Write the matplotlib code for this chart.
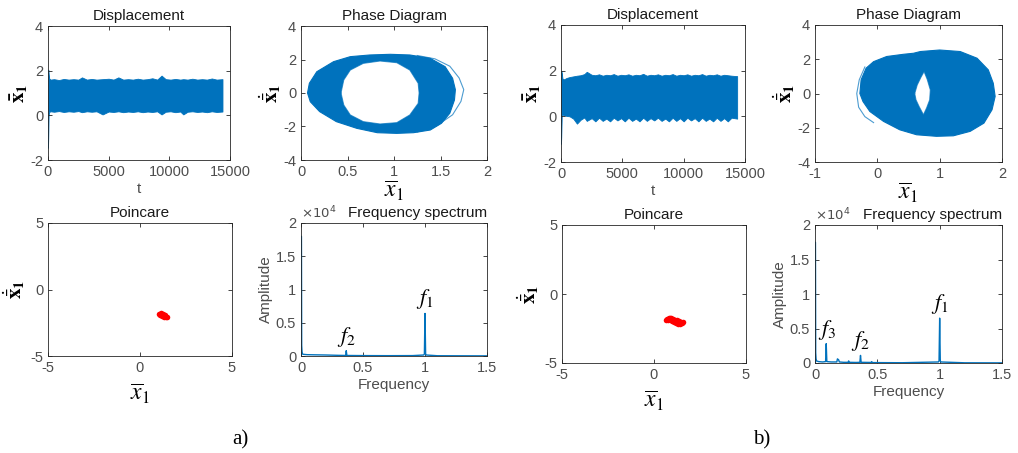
import matplotlib
matplotlib.use("Agg")
import matplotlib.pyplot as plt

plt.rcParams["font.family"] = ["Liberation Sans", "DejaVu Sans"]

BLUE = "#0072BD"
GREY = "#4d4d4d"

# ---- a) displacement envelope (read off the picture)
disp_t_a = [0, 20, 50, 100, 200, 500, 900, 1300, 1700, 2100, 2500, 2800, 3200, 3600,
            4000, 4500, 5000, 5400, 5800, 6200, 6600, 7000, 7400, 7800, 8200, 8600,
            9000, 9360, 9700, 10100, 10500, 10900, 11150, 11500, 11900, 12300, 12700,
            13100, 13500, 13900, 14380]
disp_hi_a = [0.3, 2.05, 1.85, 1.65, 1.6, 1.62, 1.58, 1.63, 1.6, 1.62, 1.6, 1.7, 1.6, 1.63,
             1.6, 1.62, 1.64, 1.6, 1.7, 1.6, 1.62, 1.6, 1.64, 1.6, 1.62, 1.66,
             1.6, 1.78, 1.62, 1.6, 1.63, 1.6, 1.62, 1.6, 1.64, 1.6, 1.62,
             1.6, 1.65, 1.6, 1.62]
disp_lo_a = [-1.45, -1.0, 0.0, 0.15, 0.18, 0.16, 0.19, 0.15, 0.18, 0.16, 0.19, 0.14, 0.18, 0.16,
             0.18, 0.04, 0.17, 0.15, 0.18, 0.14, 0.17, 0.15, 0.18, 0.14, 0.17, 0.15,
             0.18, 0.04, 0.16, 0.18, 0.14, 0.17, 0.04, 0.16, 0.18, 0.15, 0.17,
             0.14, 0.18, 0.15, 0.17]

# ---- b) displacement envelope
disp_t_b = [0, 20, 60, 120, 250, 450, 700, 1000, 1300, 1600, 1900, 2100, 2500, 2800,
            3100, 3400, 3700, 4000, 4300, 4600, 4900, 5200, 5500, 5800, 6100, 6400,
            6700, 7000, 7300, 7600, 7900, 8200, 8500, 8800, 9100, 9400, 9700, 10000,
            10300, 10600, 10900, 11200, 11500, 11800, 12100, 12400, 12700, 13000,
            13300, 13600, 13900, 14360]
disp_hi_b = [0.5, 2.0, 1.9, 1.65, 1.62, 1.68, 1.72, 1.75, 1.78, 1.8, 1.85, 1.95, 1.82, 1.8,
             1.84, 1.78, 1.82, 1.8, 1.85, 1.78, 1.82, 1.8, 1.84, 1.78, 1.82, 1.8,
             1.86, 1.78, 1.82, 1.8, 1.84, 1.78, 1.82, 1.8, 1.85, 1.78, 1.82, 1.8,
             1.84, 1.78, 1.82, 1.8, 1.85, 1.78, 1.82, 1.8, 1.84, 1.78,
             1.82, 1.8, 1.78, 1.76]
disp_lo_b = [-1.2, -0.9, 0.05, 0.08, 0.04, 0.02, 0.0, -0.1, -0.32, -0.15, -0.05, -0.2, -0.08, -0.22,
             -0.06, -0.2, -0.1, -0.22, -0.06, -0.18, -0.08, -0.22, -0.06, -0.2, -0.1, -0.22,
             -0.06, -0.2, -0.08, -0.18, -0.06, -0.2, -0.1, -0.22, -0.06, -0.2, -0.08, -0.22,
             -0.06, -0.18, -0.08, -0.22, -0.06, -0.2, -0.1, -0.22, -0.06, -0.2,
             -0.08, -0.22, -0.06, -0.1]

# ---- phase diagrams: outer / inner boundary of the filled orbit band
phase_out_x_a = [0.07, 0.09, 0.17, 0.35, 0.53, 0.74, 0.96, 1.17, 1.39, 1.55, 1.63, 1.66,
                 1.65, 1.6, 1.51, 1.39, 1.21, 1.03, 0.82, 0.6, 0.38, 0.2, 0.1]
phase_out_y_a = [0.0, 0.58, 1.27, 1.87, 2.17, 2.27, 2.31, 2.27, 2.07, 1.57, 0.88, 0.2,
                 -0.42, -1.21, -1.81, -2.21, -2.37, -2.41, -2.37, -2.11, -1.71, -1.11, -0.52]
phase_in_x_a = [0.43, 0.46, 0.53, 0.67, 0.85, 1.03, 1.17, 1.26, 1.27, 1.26, 1.17, 1.03,
                0.85, 0.67, 0.53, 0.46]
phase_in_y_a = [0.0, 0.78, 1.37, 1.77, 1.91, 1.81, 1.37, 0.58, 0.0, -0.62, -1.31, -1.77,
                -1.85, -1.71, -1.31, -0.72]
stray_x_a = [1.25, 1.44, 1.6, 1.7, 1.75, 1.72, 1.63, 1.46, 1.25]
stray_y_a = [2.24, 2.04, 1.6, 0.9, 0.2, -0.5, -1.3, -1.95, -2.33]

phase_out_x_b = [-0.28, -0.26, -0.18, -0.06, 0.15, 0.42, 0.58, 0.69, 1.0, 1.33, 1.6, 1.78,
                 1.86, 1.89, 1.84, 1.71, 1.49, 1.22, 0.95, 0.63, 0.36, 0.1, -0.12, -0.23]
phase_out_y_b = [0.0, 0.8, 1.48, 1.86, 2.16, 2.29, 2.35, 2.45, 2.54, 2.45, 2.06, 1.38,
                 0.6, -0.17, -0.95, -1.73, -2.21, -2.47, -2.5, -2.41, -2.12, -1.63, -1.05, -0.47]
phase_in_x_b = [0.6, 0.64, 0.7, 0.75, 0.8, 0.85, 0.84, 0.79, 0.74, 0.67, 0.62]
phase_in_y_b = [0.0, 0.5, 0.95, 1.28, 0.83, 0.21, -0.37, -0.85, -1.24, -0.76, -0.37]
stray_x_b = [-0.2, -0.29, -0.33, -0.3, -0.2, -0.06]
stray_y_b = [1.55, 0.8, 0.0, -0.8, -1.35, -1.7]

# ---- Poincare sections (red clusters)
poin_x_a = [1.05, 1.15, 1.25, 1.35, 1.45, 1.1, 1.2, 1.3, 1.4]
poin_y_a = [-1.85, -1.8, -1.85, -1.95, -2.05, -1.95, -2.0, -2.05, -2.1]
poin_x_b = [0.65, 0.72, 0.8, 0.88, 0.95, 1.05, 1.15, 1.25, 1.35, 1.45, 1.55, 0.75, 0.9,
            1.0, 1.1, 1.2, 1.3, 1.4, 1.5]
poin_y_b = [-1.85, -1.78, -1.72, -1.72, -1.76, -1.8, -1.85, -1.9, -1.95, -2.0, -2.05,
            -1.9, -1.88, -1.95, -2.05, -2.1, -2.15, -2.15, -2.1]

# ---- frequency spectra
freq_a = [0.003, 0.003, 0.005, 0.008, 0.012, 0.02, 0.05, 0.1, 0.2, 0.3, 0.36, 0.365, 0.37,
          0.5, 0.7, 0.9, 0.99, 0.995, 1.0, 1.005, 1.01, 1.1, 1.3, 1.5]
amp_a = [0, 18000, 1600, 600, 300, 250, 200, 180, 150, 100, 80, 800, 80,
         60, 50, 60, 150, 300, 6400, 300, 150, 40, 30, 20]
freq_b = [0.003, 0.003, 0.005, 0.008, 0.012, 0.03, 0.06, 0.085, 0.09, 0.095, 0.13, 0.175,
          0.18, 0.19, 0.195, 0.23, 0.265, 0.27, 0.275, 0.33, 0.36, 0.365, 0.37, 0.45,
          0.455, 0.46, 0.7, 0.99, 0.995, 1.0, 1.005, 1.01, 1.2, 1.5]
amp_b = [0, 17500, 1500, 600, 300, 200, 150, 200, 2800, 200, 150, 150,
         600, 450, 150, 100, 100, 300, 100, 80, 100, 1100, 100, 80,
         200, 60, 40, 150, 300, 6500, 300, 150, 30, 20]
peaks_a = {"$f_1$": (1.0, 6400), "$f_2$": (0.365, 800)}
peaks_b = {"$f_1$": (1.0, 6500), "$f_2$": (0.365, 1100), "$f_3$": (0.1, 2800)}

W, H = 1018, 453


def add_ax(fig, l, r, t, b):
    return fig.add_axes([l / W, 1 - b / H, (r - l) / W, (b - t) / H])


def style(ax, title, loc="center"):
    ax.set_title(title, fontsize=11, pad=4, color="#1a1a1a", loc=loc)
    ax.tick_params(direction="in", top=True, right=True, labelsize=10.5,
                   labelcolor=GREY, color="#262626", length=3, width=0.6)
    for s in ax.spines.values():
        s.set_color("#262626")
        s.set_linewidth(0.6)


def ticks(ax, xt, yt):
    ax.set_xticks(xt)
    ax.set_xticklabels([f"{v:g}" for v in xt])
    ax.set_yticks(yt)
    ax.set_yticklabels([f"{v:g}" for v in yt])


def xbar_label(ax, pad=2):
    ax.set_xlabel(r"$\overline{x}_1$", fontsize=17, labelpad=pad,
                  math_fontfamily="stix")


def xdot_ylabel(ax, pad=0):
    ax.set_ylabel(r"$\dot{\bar{\mathbf{x}}}_\mathbf{1}$", fontsize=15, labelpad=pad,
                  math_fontfamily="stix")


def displacement(ax, t, hi, lo):
    ax.fill_between(t, lo, hi, color=BLUE, lw=0.6, edgecolor=BLUE)
    ax.set_xlim(0, 15000)
    ax.set_ylim(-2, 4)
    ticks(ax, [0, 5000, 10000, 15000], [-2, 0, 2, 4])
    style(ax, "Displacement")
    ax.set_xlabel("t", fontsize=11, color=GREY, labelpad=2)
    ax.set_ylabel(r"$\mathbf{\bar{x}_1}$", fontsize=15, labelpad=0,
                  math_fontfamily="stix")


def phase(ax, ox, oy, ix, iy, sx, sy, xlim, xt):
    ax.fill(ox, oy, color=BLUE, lw=0.8)
    ax.fill(ix, iy, color="white", lw=0)
    ax.plot(ix + ix[:1], iy + iy[:1], color=BLUE, lw=0.8, alpha=0.7)
    ax.plot(sx, sy, color=BLUE, lw=0.8, alpha=0.7)
    ax.set_xlim(*xlim)
    ax.set_ylim(-4, 4)
    ticks(ax, xt, [-4, -2, 0, 2, 4])
    style(ax, "Phase Diagram")
    xbar_label(ax, pad=0)
    xdot_ylabel(ax, pad=0)


def poincare(ax, x, y):
    ax.scatter(x, y, s=16, color="red", lw=0)
    ax.set_xlim(-5, 5)
    ax.set_ylim(-5, 5)
    ticks(ax, [-5, 0, 5], [-5, 0, 5])
    style(ax, "Poincare")
    xbar_label(ax, pad=5)
    xdot_ylabel(ax, pad=2)


def spectrum(ax, f, a, peaks):
    ax.plot(f, a, color=BLUE, lw=1.0)
    ax.set_xlim(0, 1.5)
    ax.set_ylim(0, 20000)
    ticks(ax, [0, 0.5, 1, 1.5], [0, 5000, 10000, 15000, 20000])
    ax.set_yticklabels(["0", "0.5", "1", "1.5", "2"])
    style(ax, "Frequency spectrum", loc="right")
    ax.text(0.0, 1.01, r"$\times10^4$", transform=ax.transAxes, fontsize=9.5,
            color=GREY, va="bottom")
    ax.set_xlabel("Frequency", fontsize=11, color=GREY, labelpad=2)
    ax.set_ylabel("Amplitude", fontsize=11, color=GREY, labelpad=2)
    for lab, (px, py) in peaks.items():
        ax.text(px, py + 300, lab, fontsize=16, ha="center", va="bottom",
                math_fontfamily="stix")


fig = plt.figure(figsize=(W / 100, H / 100), dpi=100)

displacement(add_ax(fig, 48, 230, 26, 160), disp_t_a, disp_hi_a, disp_lo_a)
phase(add_ax(fig, 301, 487, 26, 160), phase_out_x_a, phase_out_y_a,
      phase_in_x_a, phase_in_y_a, stray_x_a, stray_y_a, (0, 2), [0, 0.5, 1, 1.5, 2])
poincare(add_ax(fig, 48, 232, 223, 356), poin_x_a, poin_y_a)
spectrum(add_ax(fig, 301, 487, 223, 356), freq_a, amp_a, peaks_a)

displacement(add_ax(fig, 561, 745, 25, 162), disp_t_b, disp_hi_b, disp_lo_b)
phase(add_ax(fig, 815, 1002, 25, 162), phase_out_x_b, phase_out_y_b,
      phase_in_x_b, phase_in_y_b, stray_x_b, stray_y_b, (-1, 2), [-1, 0, 1, 2])
poincare(add_ax(fig, 562, 746, 225, 363), poin_x_b, poin_y_b)
spectrum(add_ax(fig, 815, 1002, 225, 363), freq_b, amp_b, peaks_b)

fig.text(240 / W, 1 - 440 / H, "a)", fontsize=15, family="Liberation Serif",
         ha="center", va="center")
fig.text(762 / W, 1 - 440 / H, "b)", fontsize=15, family="Liberation Serif",
         ha="center", va="center")

fig.savefig("out.png", dpi=100)
